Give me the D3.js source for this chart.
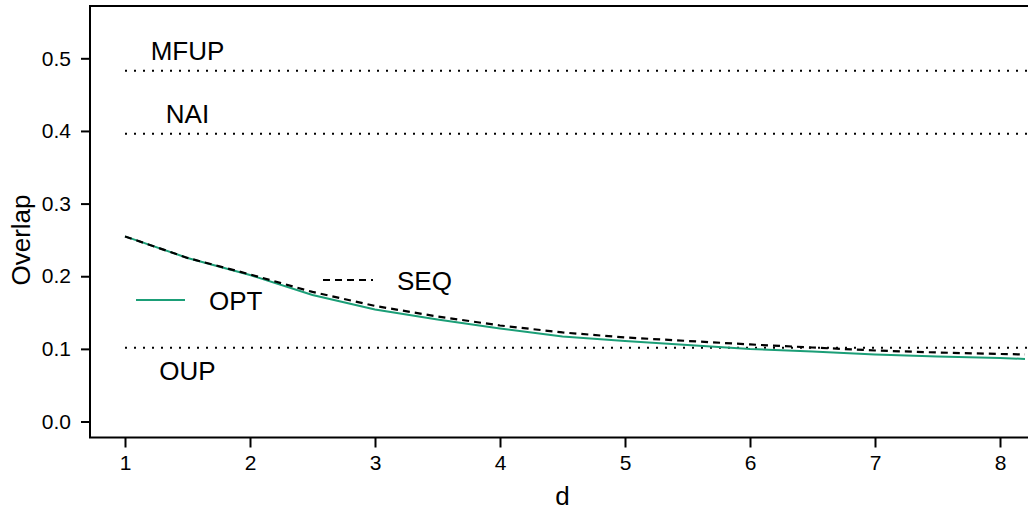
<!DOCTYPE html>
<html>
<head>
<meta charset="utf-8">
<script src="https://cdn.jsdelivr.net/npm/d3@7"></script>
<style>
  body { margin: 0; background: #fff; }
  svg { display: block; font-family: "Liberation Sans", Arial, sans-serif; }
</style>
</head>
<body>
<script>
// values
const dValues = [1, 1.5, 2, 2.5, 3, 3.5, 4, 4.5, 5, 5.5, 6, 6.5, 7, 7.5, 8, 8.2]
const optValues = [0.2548, 0.2252, 0.2018, 0.1742, 0.1543, 0.1405, 0.1281, 0.1171,
  0.1109, 0.1054, 0.0999, 0.0964, 0.0923, 0.0895, 0.0875, 0.0861]
const seqValues = [0.2548, 0.2252, 0.2025, 0.1784, 0.1591, 0.1446, 0.1322, 0.1226,
  0.1157, 0.1109, 0.1061, 0.1019, 0.0978, 0.0950, 0.0930, 0.0923]
const refNames = ['MFUP', 'NAI', 'OUP']
const refValues = [0.4828, 0.3963, 0.1014]
const xTicks = [1, 2, 3, 4, 5, 6, 7, 8]
const yTicks = [0, 0.1, 0.2, 0.3, 0.4, 0.5]

function drawChart() {
  const svgWidth = 1028, svgHeight = 510
  const box = {left: 90, right: 1035, top: 6, bottom: 437.5}
  const green = '#1b9e77'
  const font = '"Liberation Sans", Arial, sans-serif'

  const svg = d3.select('body').append('svg')
    .attr('width', svgWidth)
    .attr('height', svgHeight)

  const x = d3.scaleLinear().domain([0.72, 8.28]).range([box.left, box.right])
  const y = d3.scaleLinear().domain([-0.022, 0.572]).range([box.bottom, box.top])

  svg.append('defs').append('clipPath')
    .attr('id', 'clip')
    .append('rect')
    .attr('x', box.left)
    .attr('y', box.top)
    .attr('width', box.right - box.left)
    .attr('height', box.bottom - box.top)

  const plot = svg.append('g').attr('clip-path', 'url(#clip)')

  // reference lines, dotted, from d = 1 to the right edge
  refValues.forEach(function(v, i) {
    plot.append('line')
      .attr('x1', x(1)).attr('x2', box.right)
      .attr('y1', y(v)).attr('y2', y(v))
      .attr('stroke', '#000')
      .attr('stroke-width', 2)
      .attr('stroke-dasharray', '2,7')
    svg.append('text')
      .attr('x', x(1.5))
      .attr('y', y(v) + (refNames[i] === 'OUP' ? 23 : -20))
      .attr('text-anchor', 'middle')
      .attr('dominant-baseline', 'central')
      .style('font-size', '26px')
      .text(refNames[i])
  })

  const optData = dValues.map(function(d, i) { return {d: d, v: optValues[i]} })
  const seqData = dValues.map(function(d, i) { return {d: d, v: seqValues[i]} })

  const line = d3.line()
    .x(function(p) { return x(p.d) })
    .y(function(p) { return y(p.v) })

  plot.append('path')
    .datum(optData)
    .attr('fill', 'none')
    .attr('stroke', green)
    .attr('stroke-width', 2)
    .attr('d', line)

  plot.append('path')
    .datum(seqData)
    .attr('fill', 'none')
    .attr('stroke', '#000')
    .attr('stroke-width', 2.2)
    .attr('stroke-dasharray', '7,5')
    .attr('d', line)

  // frame (right side falls outside the picture)
  svg.append('rect')
    .attr('x', box.left).attr('y', box.top)
    .attr('width', box.right - box.left)
    .attr('height', box.bottom - box.top)
    .attr('fill', 'none')
    .attr('stroke', '#000')
    .attr('stroke-width', 2)

  function styleAxis(g) {
    g.attr('font-size', 21).attr('font-family', font)
    g.select('.domain').remove()
    g.selectAll('.tick line').attr('stroke-width', 2)
  }

  svg.append('g')
    .attr('transform', 'translate(0,' + box.bottom + ')')
    .call(d3.axisBottom(x).tickValues(xTicks).tickSize(10).tickPadding(8).tickFormat(d3.format('d')))
    .call(styleAxis)

  svg.append('g')
    .attr('transform', 'translate(' + box.left + ',0)')
    .call(d3.axisLeft(y).tickValues(yTicks).tickSize(9).tickPadding(10).tickFormat(d3.format('.1f')))
    .call(styleAxis)

  // axis titles
  svg.append('text')
    .attr('x', (box.left + box.right) / 2)
    .attr('y', 505)
    .attr('text-anchor', 'middle')
    .style('font-size', '26px')
    .text('d')

  svg.append('text')
    .attr('transform', 'translate(30,240) rotate(-90)')
    .attr('text-anchor', 'middle')
    .style('font-size', '26px')
    .text('Overlap')

  // legend
  const legend = [
    {name: 'SEQ', x1: 323, x2: 373, y: 280, color: '#000', dash: '7,5'},
    {name: 'OPT', x1: 136, x2: 185, y: 300, color: green, dash: null}
  ]
  legend.forEach(function(l) {
    svg.append('line')
      .attr('x1', l.x1).attr('x2', l.x2)
      .attr('y1', l.y).attr('y2', l.y)
      .attr('stroke', l.color)
      .attr('stroke-width', 2)
      .attr('stroke-dasharray', l.dash)
    svg.append('text')
      .attr('x', l.x2 + 24)
      .attr('y', l.y + 1)
      .attr('dominant-baseline', 'central')
      .style('font-size', '26px')
      .text(l.name)
  })
}

drawChart()
</script>
</body>
</html>
